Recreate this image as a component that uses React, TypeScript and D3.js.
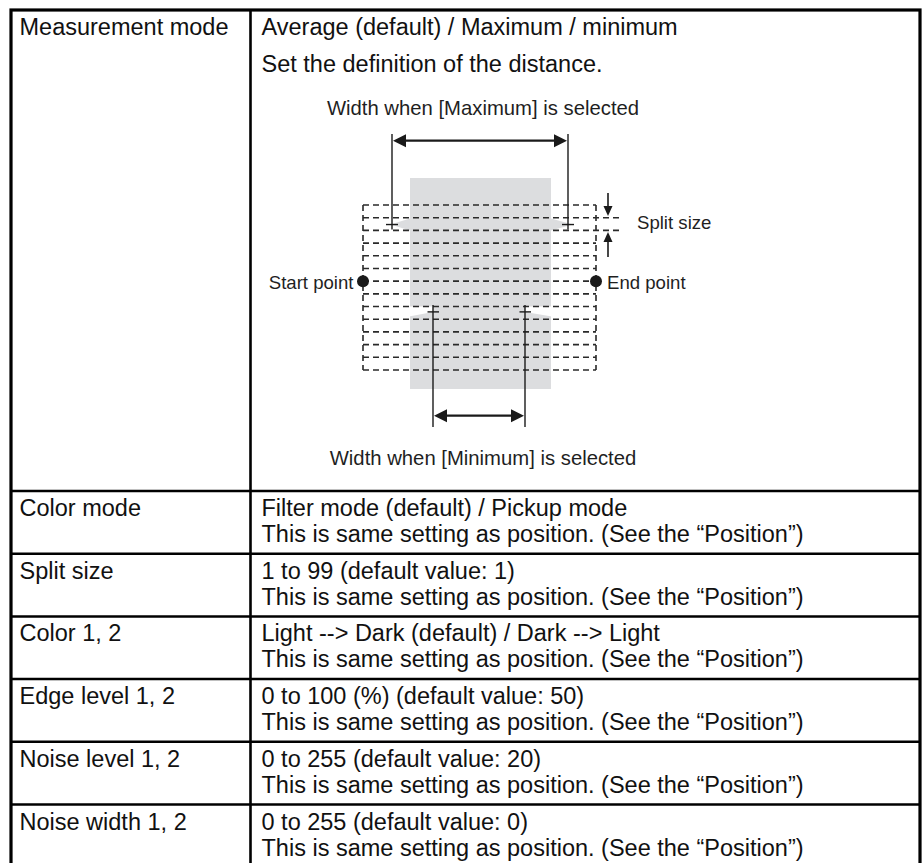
import React from "react";
import * as d3 from "d3";

// ---- table content ----
const rowLabels = [
  "Measurement mode",
  "Color mode",
  "Split size",
  "Color 1, 2",
  "Edge level 1, 2",
  "Noise level 1, 2",
  "Noise width 1, 2",
];
const rowFirstLines = [
  "Average (default) / Maximum / minimum",
  "Filter mode (default) / Pickup mode",
  "1 to 99 (default value: 1)",
  "Light --> Dark (default) / Dark --> Light",
  "0 to 100 (%) (default value: 50)",
  "0 to 255 (default value: 20)",
  "0 to 255 (default value: 0)",
];
const rowSecondLines = [
  "Set the definition of the distance.",
  "This is same setting as position. (See the \u201cPosition\u201d)",
  "This is same setting as position. (See the \u201cPosition\u201d)",
  "This is same setting as position. (See the \u201cPosition\u201d)",
  "This is same setting as position. (See the \u201cPosition\u201d)",
  "This is same setting as position. (See the \u201cPosition\u201d)",
  "This is same setting as position. (See the \u201cPosition\u201d)",
];

// ---- diagram content ----
const splitCount = 13; // number of split strips
const dotStrip = 6; // strip boundary holding start/end points
const maxRowBoundary = [1, 2]; // strip measured for max width
const minRowBoundary = [8, 9]; // strip measured for min width
const diagramLabels = {
  max: "Width when [Maximum] is selected",
  min: "Width when [Minimum] is selected",
  split: "Split size",
  start: "Start point",
  end: "End point",
};

const FONT = "'Liberation Sans', Arial, Helvetica, sans-serif";

function arrowHead(tipX: number, tipY: number, dx: number, dy: number, len: number, half: number) {
  const bx = tipX - dx * len;
  const by = tipY - dy * len;
  const px = -dy, py = dx;
  return `M${tipX},${tipY}L${bx + px * half},${by + py * half}L${bx - px * half},${by - py * half}Z`;
}

export default function App() {
  const W = 924, H = 863;
  const left = 11, right = 920, top = 10, colX = 250.5;
  const firstRowBottom = 491;
  const rowStep = 62.7;
  const rowY = d3.scaleLinear().domain([1, 2]).range([firstRowBottom, firstRowBottom + rowStep]);
  const rowTop = (i: number) => (i === 0 ? top : rowY(i));
  const rowBottom = (i: number) => rowY(i + 1);

  // diagram scales
  const gy = d3.scaleLinear().domain([0, splitCount]).range([205, 370]);
  const gx = d3.scaleLinear().domain([0, 1]).range([363, 596]);
  const objL = 410, objR = 551, objT = 178, objB = 389;
  const maxL = 392, maxR = 568, minL = 433, minR = 525;
  const ink = "#1a1a1a";
  const dashInk = "#2a2a2a";
  const gray = "#dcdddf";
  const dash = "6,4";

  const maxY = (gy(maxRowBoundary[0]) + gy(maxRowBoundary[1])) / 2 + 0.5;
  const minY = (gy(minRowBoundary[0]) + gy(minRowBoundary[1])) / 2 - 1;
  const dotY = gy(dotStrip);
  const mTop = gy(minRowBoundary[0]);

  const mainSize = 23.5;
  const diagSize = 20.3;
  const sideSize = 18.6;

  return (
    <svg width={W} height={H} style={{ position: "absolute", left: 0, top: 0, background: "#fff" }} fontFamily={FONT}>
      <rect x={0} y={0} width={W} height={H} fill="#fff" />
      {rowLabels.map((lab, i) => {
        const t = rowTop(i);
        const b1 = i === 0 ? 34.5 : t + 25;
        const b2 = i === 0 ? 71.5 : t + 51;
        return (
          <g key={lab} fontSize={mainSize} fill="#111">
            <text x={19.5} y={b1}>{lab}</text>
            <text x={261.5} y={b1}>{rowFirstLines[i]}</text>
            <text x={261.5} y={b2}>{rowSecondLines[i]}</text>
          </g>
        );
      })}

      {/* diagram */}
      <g>
        <rect x={objL} y={objT} width={objR - objL} height={objB - objT} fill={gray} />
        <path d={`M${objL},${maxY - 6}L${maxL},${maxY - 0.5}L${maxL},${maxY + 0.5}L${objL},${maxY + 6}Z`} fill={gray} />
        <path d={`M${objR},${maxY - 6}L${maxR + 3},${maxY - 0.5}L${maxR + 3},${maxY + 0.5}L${objR},${maxY + 6}Z`} fill={gray} />
        <path d={`M${objL - 1},${mTop}L${minL},${mTop}L${minL},${minY}L${objL - 1},${minY + 4.5}Z`} fill="#fff" />
        <path d={`M${objR + 1},${mTop}L${minR},${mTop}L${minR},${minY}L${objR + 1},${minY + 4.5}Z`} fill="#fff" />

        {d3.range(splitCount + 1).map((k) => (
          <line key={k} x1={gx(0)} x2={maxRowBoundary.includes(k) ? 623 : gx(1)} y1={gy(k)} y2={gy(k)}
            stroke={dashInk} strokeWidth={1.6} strokeDasharray={dash} />
        ))}
        <line x1={gx(0)} x2={gx(0)} y1={gy(0)} y2={gy(splitCount)} stroke={dashInk} strokeWidth={1.6} strokeDasharray={dash} />
        <line x1={gx(1)} x2={gx(1)} y1={gy(0)} y2={gy(splitCount)} stroke={dashInk} strokeWidth={1.6} strokeDasharray={dash} />

        <circle cx={gx(0)} cy={dotY} r={6} fill={ink} />
        <circle cx={gx(1)} cy={dotY} r={6} fill={ink} />

        {/* max width */}
        {[maxL, maxR].map((x) => (
          <g key={x} stroke={ink} strokeWidth={1.4}>
            <line x1={x} x2={x} y1={134} y2={maxY + 5} />
            <line x1={x - 6} x2={x + 6} y1={maxY} y2={maxY} />
          </g>
        ))}
        <line x1={maxL + 8} x2={maxR - 8} y1={140.7} y2={140.7} stroke={ink} strokeWidth={2.3} />
        <path d={arrowHead(maxL + 1, 140.7, -1, 0, 13, 6.5)} fill={ink} />
        <path d={arrowHead(maxR - 1, 140.7, 1, 0, 13, 6.5)} fill={ink} />

        {/* min width */}
        {[minL, minR].map((x) => (
          <g key={x} stroke={ink} strokeWidth={1.4}>
            <line x1={x} x2={x} y1={mTop - 1.5} y2={427} />
            <line x1={x - 5.5} x2={x + 6} y1={minY} y2={minY} />
          </g>
        ))}
        <line x1={minL + 8} x2={minR - 8} y1={415.7} y2={415.7} stroke={ink} strokeWidth={2.3} />
        <path d={arrowHead(minL + 1, 415.7, -1, 0, 13, 6.5)} fill={ink} />
        <path d={arrowHead(minR - 1, 415.7, 1, 0, 13, 6.5)} fill={ink} />

        {/* split size arrows */}
        <line x1={608} x2={608} y1={193} y2={207} stroke={ink} strokeWidth={1.6} />
        <path d={arrowHead(608, 216, 0, 1, 10, 4.5)} fill={ink} />
        <line x1={608} x2={608} y1={241} y2={257} stroke={ink} strokeWidth={1.6} />
        <path d={arrowHead(608, 232, 0, -1, 10, 4.5)} fill={ink} />

        <g fill="#1f1f1f">
          <text x={483} y={115} fontSize={diagSize} textAnchor="middle">{diagramLabels.max}</text>
          <text x={483} y={465} fontSize={diagSize} textAnchor="middle">{diagramLabels.min}</text>
          <text x={637} y={229} fontSize={sideSize}>{diagramLabels.split}</text>
          <text x={353.5} y={289} fontSize={sideSize} textAnchor="end">{diagramLabels.start}</text>
          <text x={607} y={289} fontSize={sideSize}>{diagramLabels.end}</text>
        </g>
      </g>

      {/* grid */}
      <g stroke="#000" fill="none">
        {d3.range(1, rowLabels.length).map((i) => (
          <line key={i} x1={left} x2={right} y1={rowTop(i)} y2={rowTop(i)} strokeWidth={2.5} />
        ))}
        <line x1={colX} x2={colX} y1={top} y2={rowBottom(rowLabels.length - 1)} strokeWidth={2.6} />
        <rect x={left} y={top} width={right - left} height={rowBottom(rowLabels.length - 1) - top} strokeWidth={3.2} />
      </g>
    </svg>
  );
}
